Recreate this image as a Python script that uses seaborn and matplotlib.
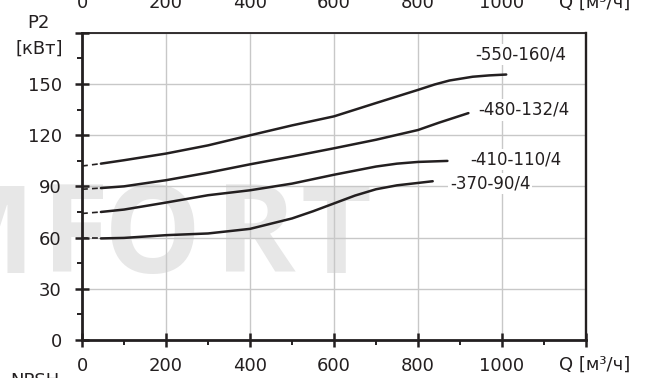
import pandas as pd
import matplotlib
matplotlib.use("Agg")
import matplotlib.pyplot as plt
import matplotlib.transforms as mtransforms
from matplotlib.ticker import MultipleLocator
import seaborn as sns

# Courbes P2 = f(Q)
q_550 = [45, 100, 200, 300, 400, 500, 600, 700, 800, 840, 875, 930, 970, 1010]
p_550 = [103.3, 105.3, 109.2, 114.0, 119.9, 125.7, 131.0, 138.8, 146.5, 149.7, 152.0, 154.2, 155.0, 155.5]
q_480 = [45, 100, 200, 300, 400, 500, 600, 700, 800, 850, 920]
p_480 = [89.0, 90.0, 93.6, 98.0, 102.9, 107.5, 112.3, 117.3, 123.0, 127.3, 132.9]
q_410 = [45, 100, 200, 300, 400, 500, 600, 700, 750, 800, 870]
p_410 = [75.0, 76.4, 80.5, 84.8, 87.7, 91.6, 96.8, 101.6, 103.3, 104.3, 104.9]
q_370 = [45, 100, 200, 300, 400, 500, 550, 600, 650, 700, 750, 800, 835]
p_370 = [59.5, 59.8, 61.4, 62.4, 65.1, 71.2, 75.4, 80.0, 84.6, 88.3, 90.6, 92.0, 93.0]

# valeurs à Q = 0 (partie en pointillés)
p_start = [101.9, 88.3, 74.1, 59.5]

names = ["-550-160/4", "-480-132/4", "-410-110/4", "-370-90/4"]
label_q = [936, 943, 925, 876]
label_p = [167.3, 134.8, 105.7, 91.8]

x_ticks = [0, 200, 400, 600, 800, 1000]
y_ticks = [0, 30, 60, 90, 120, 150]

curves = [(q_550, p_550), (q_480, p_480), (q_410, p_410), (q_370, p_370)]

ink = "#231f20"
W, H = 660, 378

sns.set_style("white")
plt.rcParams["font.family"] = ["DejaVu Sans"]

fig = plt.figure(figsize=(6.6, 3.78), dpi=100)
ax = fig.add_axes([82 / W, 1 - 340 / H, (586 - 82) / W, (340 - 32.7) / H])
ax.patch.set_alpha(0)

# filigrane (logo) en arrière-plan, lettre par lettre
for letter, cx in [("M", -22), ("F", 76), ("O", 153), ("R", 255), ("T", 336)]:
    fig.text(cx / W, 1 - 273 / H, letter, fontsize=88, fontweight="bold",
             family="Open Sans", color="#e7e7e7", ha="center", va="baseline", zorder=-5)

for (q, p), p0 in zip(curves, p_start):
    df = pd.DataFrame({"Q": q, "P2": p})
    sns.lineplot(data=df, x="Q", y="P2", ax=ax, color=ink, linewidth=1.8,
                 sort=False, zorder=3)
    dash = pd.DataFrame({"Q": [0, q[0]], "P2": [p0, p[0]]})
    sns.lineplot(data=dash, x="Q", y="P2", ax=ax, color=ink, linewidth=1.2,
                 linestyle=(0, (3.5, 2.5)), zorder=3)

for name, x, y in zip(names, label_q, label_p):
    ax.text(x, y, name, fontsize=12, color=ink, ha="left", va="center", zorder=4,
            bbox=dict(boxstyle="square,pad=0.1", facecolor="white", edgecolor="none"))

ax.set_xlim(0, 1200)
ax.set_ylim(0, 180)
ax.xaxis.set_minor_locator(MultipleLocator(100))
ax.yaxis.set_minor_locator(MultipleLocator(15))
ax.set_xticks(list(range(0, 1201, 200)))
ax.set_xticklabels([str(v) for v in x_ticks] + [""])
ax.set_yticks(list(range(0, 181, 30)))
ax.set_yticklabels([str(v) for v in y_ticks] + [""])
ax.set_xlabel("")
ax.set_ylabel("")

ax.grid(True, which="major", color="#c8c8c8", linewidth=1.0, zorder=1)
ax.set_axisbelow(True)

for side in ["left", "bottom"]:
    ax.spines[side].set_linewidth(2.0)
    ax.spines[side].set_color(ink)
    ax.spines[side].set_visible(True)
ax.spines["top"].set_linewidth(1.3)
ax.spines["right"].set_linewidth(1.7)
for side in ["top", "right"]:
    ax.spines[side].set_color(ink)
    ax.spines[side].set_visible(True)

ax.tick_params(which="major", direction="inout", length=10, width=1.8, color=ink,
               labelsize=13, labelcolor=ink, bottom=True, left=True)
ax.tick_params(axis="y", which="major", pad=9.5)
ax.tick_params(axis="x", which="major", pad=7)
ax.tick_params(which="minor", direction="out", length=3.5, width=1.4, color=ink,
               bottom=True, left=True)

# graduations du graphique voisin, coupées en haut
top = mtransforms.blended_transform_factory(ax.transData, fig.transFigure)
for v in x_ticks:
    ax.text(v, 1 - 3 / H, str(v), transform=top, fontsize=13, color=ink,
            ha="center", va="center", clip_on=False)

fig.text(595 / W, 1 - 3 / H, "Q [м³/ч]", fontsize=13, color=ink, ha="center", va="center")
fig.text(595 / W, 1 - 365 / H, "Q [м³/ч]", fontsize=13, color=ink, ha="center", va="center")
fig.text(38.5 / W, 1 - 22.5 / H, "P2", fontsize=13, color=ink, ha="center", va="center")
fig.text(39 / W, 1 - 49 / H, "[кВт]", fontsize=13, color=ink, ha="center", va="center")
fig.text(35 / W, 1 - 372 / H, "NPSH", fontsize=13, color=ink, ha="center", va="top")

fig.savefig("out.png", dpi=100)
